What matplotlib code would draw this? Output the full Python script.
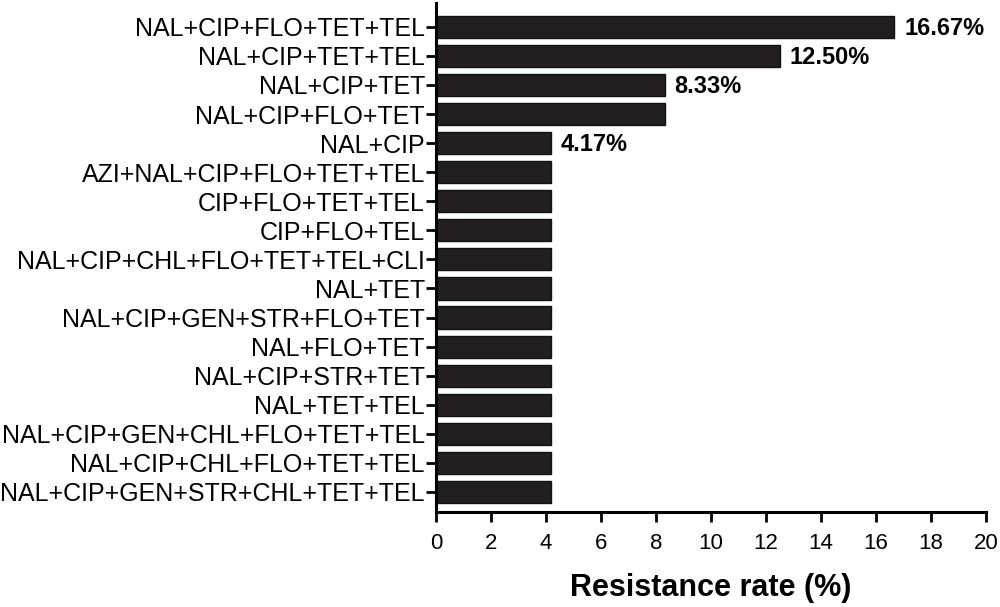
import matplotlib
matplotlib.use("Agg")
import matplotlib.pyplot as plt
import numpy as np

plt.rcParams['font.family'] = ['Liberation Sans', 'DejaVu Sans']

combos = [
    "NAL+CIP+FLO+TET+TEL",
    "NAL+CIP+TET+TEL",
    "NAL+CIP+TET",
    "NAL+CIP+FLO+TET",
    "NAL+CIP",
    "AZI+NAL+CIP+FLO+TET+TEL",
    "CIP+FLO+TET+TEL",
    "CIP+FLO+TEL",
    "NAL+CIP+CHL+FLO+TET+TEL+CLI",
    "NAL+TET",
    "NAL+CIP+GEN+STR+FLO+TET",
    "NAL+FLO+TET",
    "NAL+CIP+STR+TET",
    "NAL+TET+TEL",
    "NAL+CIP+GEN+CHL+FLO+TET+TEL",
    "NAL+CIP+CHL+FLO+TET+TEL",
    "NAL+CIP+GEN+STR+CHL+TET+TEL",
]
rates = [16.67, 12.50, 8.33, 8.33, 4.17] + [4.17] * 12
# only these bars carry a value label
labelled = [0, 1, 2, 4]

fig = plt.figure(figsize=(10, 6.07), dpi=100)
ax = fig.add_axes([0.436, 0.1565, 0.55, 0.839])

y = np.arange(len(combos))
ax.barh(y, rates, height=0.76, color='#231f20', edgecolor='#111111', linewidth=1)
ax.set_ylim(len(combos) - 1 + 0.69, -0.83)
ax.set_xlim(0, 20)
ax.set_xticks(np.arange(0, 21, 2))
ax.set_yticks(y)
ax.set_yticklabels(combos, fontsize=18)
ax.tick_params(axis='x', labelsize=16, width=2, length=7, pad=8)
ax.tick_params(axis='y', width=2, length=7, pad=1)

for i in labelled:
    ax.text(rates[i] + 0.35, y[i] + 0.05, f"{rates[i]:.2f}%", va='center', ha='left',
            fontsize=17, fontweight='bold')

for s in ['top', 'right']:
    ax.spines[s].set_visible(False)
for s in ['left', 'bottom']:
    ax.spines[s].set_linewidth(2.2)

ax.set_xlabel("Resistance rate (%)", fontsize=22, fontweight='bold', labelpad=14)

fig.savefig("out.png", dpi=100)
